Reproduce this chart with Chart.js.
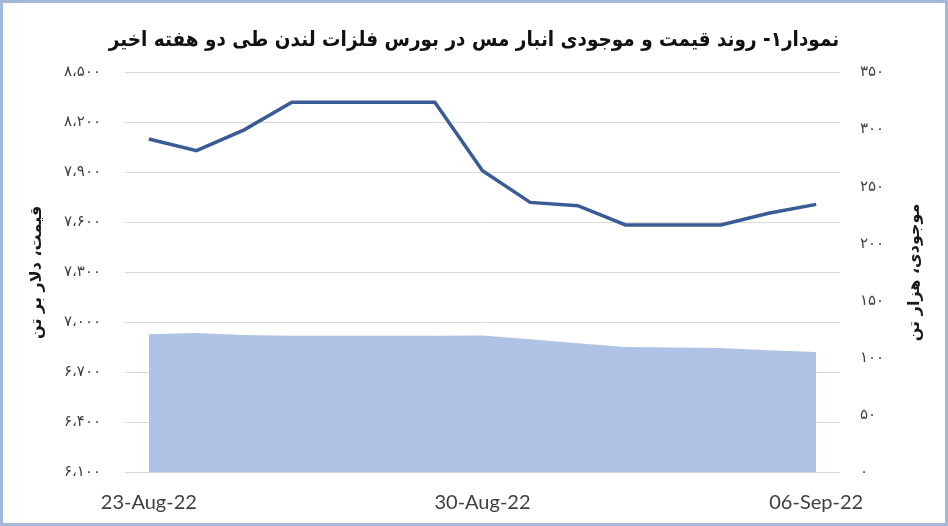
<!DOCTYPE html>
<html>
<head>
<meta charset="utf-8">
<script src="https://cdn.jsdelivr.net/npm/chart.js@4.4.0/dist/chart.umd.min.js"></script>
<style>
  html, body { margin: 0; padding: 0; background: #ffffff; }
  #wrap { position: relative; width: 948px; height: 526px; }
  canvas { display: block; }
</style>
</head>
<body>
<div id="wrap"><canvas id="c" width="948" height="526"></canvas></div>
<script>
// ---- data ----
const dates = ['23-Aug-22','24-Aug-22','25-Aug-22','26-Aug-22','27-Aug-22','28-Aug-22','29-Aug-22',
               '30-Aug-22','31-Aug-22','01-Sep-22','02-Sep-22','03-Sep-22','04-Sep-22','05-Sep-22','06-Sep-22'];
const shownDates = ['23-Aug-22','30-Aug-22','06-Sep-22'];
const price = [8100, 8030, 8155, 8320, 8320, 8320, 8320, 7910, 7720, 7700, 7585, 7585, 7585, 7655, 7708];
const stock = [121, 122, 120.3, 119.7, 119.7, 119.7, 119.7, 119.9, 116.5, 113, 109.7, 109.3, 108.8, 107, 105.3];
const priceTickLabels = ['۶،۱۰۰','۶،۴۰۰','۶،۷۰۰','۷،۰۰۰','۷،۳۰۰','۷،۶۰۰','۷،۹۰۰','۸،۲۰۰','۸،۵۰۰'];
const stockTickLabels = ['۰','۵۰','۱۰۰','۱۵۰','۲۰۰','۲۵۰','۳۰۰','۳۵۰'];
const chartTitle = 'نمودار۱- روند قیمت و موجودی انبار مس در بورس فلزات لندن طی دو هفته اخیر';
const priceAxisTitle = 'قیمت، دلار بر تن';
const stockAxisTitle = 'موجودی، هزار تن';

const frame = {
  id: 'frame',
  afterDraw(chart) {
    const ctx = chart.ctx;
    ctx.save();
    ctx.strokeStyle = '#a3b8d8';
    ctx.lineWidth = 3;
    ctx.strokeRect(1.5, 1.5, chart.width - 3, chart.height - 3);
    ctx.restore();
  }
};

const axisTitles = {
  id: 'axisTitles',
  afterDraw(chart) {
    const ctx = chart.ctx;
    const a = chart.chartArea;
    const cy = (a.top + a.bottom) / 2;
    [[priceAxisTitle, 37], [stockAxisTitle, 915]].forEach(([txt, x]) => {
      ctx.save();
      ctx.fillStyle = '#1a1a1a';
      ctx.font = 'bold 16px "DejaVu Sans"';
      ctx.textAlign = 'center';
      ctx.textBaseline = 'middle';
      ctx.direction = 'rtl';
      ctx.translate(x, cy);
      ctx.rotate(-Math.PI / 2);
      ctx.fillText(txt, 0, 0);
      ctx.restore();
    });
  }
};

new Chart(document.getElementById('c'), {
  type: 'line',
  data: {
    labels: dates,
    datasets: [
      {
        label: 'price',
        data: price,
        yAxisID: 'yPrice',
        borderColor: '#3a5c96',
        borderWidth: 3.5,
        pointRadius: 0,
        tension: 0,
        fill: false,
        order: 1
      },
      {
        label: 'stock',
        data: stock,
        yAxisID: 'yStock',
        borderWidth: 0,
        borderColor: 'rgba(0,0,0,0)',
        backgroundColor: '#b0c3e6',
        pointRadius: 0,
        tension: 0,
        fill: 'start',
        order: 2
      }
    ]
  },
  options: {
    responsive: false,
    animation: false,
    devicePixelRatio: 1,
    layout: { padding: { left: 0, right: 0, top: 0, bottom: 0 } },
    plugins: {
      legend: { display: false },
      tooltip: { enabled: false },
      title: {
        display: true,
        text: chartTitle,
        color: '#111111',
        font: { family: '"DejaVu Sans Condensed", "DejaVu Sans"', size: 20.5, weight: 'bold', lineHeight: 1.25 },
        padding: { top: 28, bottom: 18.7 }
      }
    },
    scales: {
      x: {
        offset: true,
        grid: { display: false, drawTicks: false },
        border: { display: false },
        ticks: {
          autoSkip: false,
          maxRotation: 0,
          color: '#404040',
          font: { family: 'Lato', size: 20 },
          padding: 18,
          callback(value, index) {
            const d = dates[index];
            return shownDates.includes(d) ? d : '';
          }
        },
        afterFit(scale) { scale.height = 53.5; }
      },
      yPrice: {
        position: 'left',
        min: 6100, max: 8500,
        grid: { color: '#d9d9d9', lineWidth: 1, drawTicks: false },
        border: { display: false },
        ticks: {
          stepSize: 300,
          color: '#404040',
          font: { family: '"DejaVu Sans"', size: 15 },
          padding: 24,
          callback(value, index) { return priceTickLabels[index]; }
        },
        afterFit(scale) { scale.width = 125; }
      },
      yStock: {
        position: 'right',
        min: 0, max: 350,
        grid: { display: false, drawTicks: false },
        border: { display: false },
        ticks: {
          stepSize: 50,
          color: '#404040',
          font: { family: '"DejaVu Sans"', size: 15 },
          padding: 20,
          callback(value, index) { return stockTickLabels[index]; }
        },
        afterFit(scale) { scale.width = 108; }
      }
    }
  },
  plugins: [axisTitles, frame]
});
</script>
</body>
</html>
